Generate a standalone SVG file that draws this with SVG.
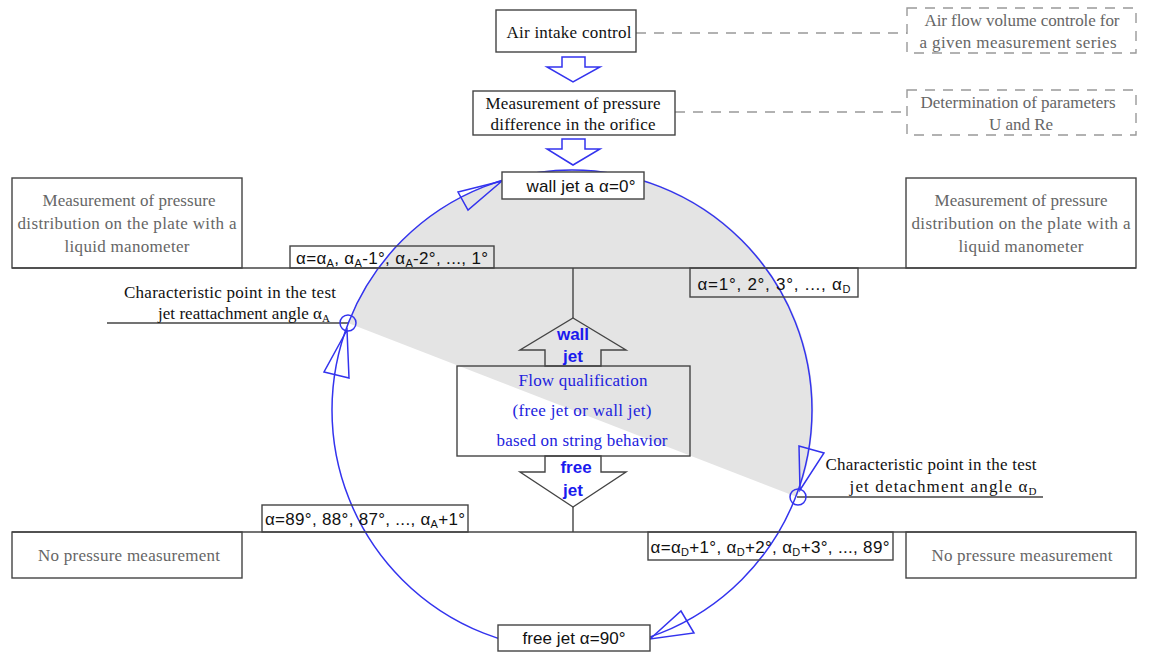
<svg xmlns="http://www.w3.org/2000/svg" width="1149" height="656" viewBox="0 0 1149 656">
<style>
.bx{fill:none;stroke:#444;stroke-width:1.4}
.wb{fill:#fff;stroke:#444;stroke-width:1.4}
.ln{stroke:#444;stroke-width:1.4;fill:none}
.dsh{fill:none;stroke:#999;stroke-width:1.4;stroke-dasharray:10 8}
.blu{fill:#fff;stroke:#3333ee;stroke-width:1.5}
.bluo{fill:none;stroke:#3333ee;stroke-width:1.5}
.se{font-family:"Liberation Serif",serif;font-size:17px;fill:#111;text-anchor:middle}
.sg{font-family:"Liberation Serif",serif;font-size:17px;fill:#666;text-anchor:middle}
.sb{font-family:"Liberation Serif",serif;font-size:17px;fill:#2222dd;text-anchor:middle}
.sa{font-family:"Liberation Sans",Arial,sans-serif;font-size:17px;fill:#111;text-anchor:middle}
.bb{font-family:"Liberation Sans",Arial,sans-serif;font-size:17px;font-weight:bold;fill:#1a1aee;text-anchor:middle}
.sub{font-size:11px}
</style>
<rect width="1149" height="656" fill="#fff"/>
<g id="segment">
<path d="M348,323 A240,240 0 0 1 797,497 Z" fill="#e4e4e4"/>
</g>
<g id="connectors">
<line class="dsh" x1="636" y1="33" x2="907" y2="33"/>
<line class="dsh" x1="675" y1="112" x2="907" y2="112"/>
<line class="ln" x1="12" y1="268" x2="1136" y2="268"/>
<line class="ln" x1="12" y1="532" x2="1136" y2="532"/>
<line class="ln" x1="573" y1="268" x2="573" y2="318"/>
<line class="ln" x1="573" y1="507" x2="573" y2="532"/>
<line class="ln" x1="107" y1="323" x2="348" y2="323"/>
<line class="ln" x1="797" y1="497" x2="1043" y2="497"/>
<circle class="bluo" cx="572" cy="410" r="240"/>
<circle class="bluo" cx="348" cy="323" r="8"/>
<circle class="bluo" cx="798" cy="497" r="8"/>
<polygon class="bluo" points="502,181 458,192 468,210"/>
<polygon class="bluo" points="347,330 324,372 349,378"/>
<polygon class="bluo" points="800,490 799,446 824,453"/>
<polygon class="bluo" points="650,639 681,611 694,633"/>
<polygon class="blu" points="562,57 585,57 585,67 600,67 573,82 547,67 562,67"/>
<polygon class="blu" points="562,139 585,139 585,149 600,149 573,165 547,149 562,149"/>
</g>
<g id="air-intake">
<rect class="wb" x="496" y="10" width="140" height="42"/>
<text class="se" x="569" y="38" textLength="125">Air intake control</text>
</g>
<g id="air-flow-note">
<rect class="dsh" x="907" y="8" width="229" height="45"/>
<text class="sg" x="1022" y="26" textLength="195">Air flow volume controle for</text>
<text class="sg" x="1018" y="48" textLength="197">a given measurement series</text>
</g>
<g id="orifice">
<rect class="wb" x="473" y="91" width="202" height="44"/>
<text class="se" x="573" y="109" textLength="175">Measurement of pressure</text>
<text class="se" x="573" y="130" textLength="165">difference in the orifice</text>
</g>
<g id="params-note">
<rect class="dsh" x="907" y="90" width="229" height="45"/>
<text class="sg" x="1018" y="108" textLength="195">Determination of parameters</text>
<text class="sg" x="1021" y="130">U and Re</text>
</g>
<g id="wall-jet-0">
<rect class="wb" x="502" y="172" width="142" height="27"/>
<text class="sa" x="581" y="192" textLength="109">wall jet a α=0°</text>
</g>
<g id="left-top">
<rect class="bx" x="12" y="178" width="230" height="90"/>
<text class="sg" x="129" y="206" textLength="173">Measurement of pressure</text>
<text class="sg" x="127" y="229" textLength="219">distribution on the plate with a</text>
<text class="sg" x="127" y="252" textLength="125">liquid manometer</text>
</g>
<g id="right-top">
<rect class="bx" x="906" y="178" width="230" height="90"/>
<text class="sg" x="1021" y="206" textLength="173">Measurement of pressure</text>
<text class="sg" x="1021" y="229" textLength="219">distribution on the plate with a</text>
<text class="sg" x="1021" y="252" textLength="125">liquid manometer</text>
</g>
<g id="range-a">
<rect class="bx" x="290" y="246" width="204" height="22"/>
<text class="sa" x="392" y="264" textLength="192">α=α<tspan class="sub" dy="3">A</tspan><tspan dy="-3">, α</tspan><tspan class="sub" dy="3">A</tspan><tspan dy="-3">-1°, α</tspan><tspan class="sub" dy="3">A</tspan><tspan dy="-3">-2°, ..., 1°</tspan></text>
</g>
<g id="range-d">
<rect class="bx" x="690" y="268" width="168" height="29"/>
<text class="sa" x="774" y="290" textLength="153">α=1°, 2°, 3°, ..., α<tspan class="sub" dy="3">D</tspan></text>
</g>
<g id="char-a">
<text class="se" x="230" y="298" textLength="212">Characteristic point in the test</text>
<text class="se" x="244" y="319" textLength="172">jet reattachment angle α<tspan class="sub" dy="3">A</tspan></text>
</g>
<g id="char-d">
<text class="se" x="931" y="470" textLength="211">Characteristic point in the test</text>
<text class="se" x="943" y="492" textLength="187">jet detachment angle α<tspan class="sub" dy="3">D</tspan></text>
</g>
<g id="wall-arrow">
<polygon class="ln" points="573,318 626,350 601,350 601,366 545,366 545,350 520,350"/>
<text class="bb" x="573" y="340">wall</text>
<text class="bb" x="573" y="362">jet</text>
</g>
<g id="flow-qualification">
<rect class="bx" x="457" y="366" width="233" height="90"/>
<text class="sb" x="583" y="386" textLength="129">Flow qualification</text>
<text class="sb" x="582" y="416" textLength="139">(free jet or wall jet)</text>
<text class="sb" x="582" y="446" textLength="171">based on string behavior</text>
</g>
<g id="free-arrow">
<polygon class="ln" points="545,456 601,456 601,472 626,472 573,507 520,472 545,472"/>
<text class="bb" x="576" y="473">free</text>
<text class="bb" x="573" y="496">jet</text>
</g>
<g id="range-89">
<rect class="bx" x="262" y="505" width="206" height="27"/>
<text class="sa" x="365" y="525" textLength="200">α=89°, 88°, 87°, ..., α<tspan class="sub" dy="3">A</tspan><tspan dy="-3">+1°</tspan></text>
</g>
<g id="range-d89">
<rect class="bx" x="648" y="532" width="245" height="28"/>
<text class="sa" x="770" y="553" textLength="239">α=α<tspan class="sub" dy="3">D</tspan><tspan dy="-3">+1°, α</tspan><tspan class="sub" dy="3">D</tspan><tspan dy="-3">+2°, α</tspan><tspan class="sub" dy="3">D</tspan><tspan dy="-3">+3°, ..., 89°</tspan></text>
</g>
<g id="left-bottom">
<rect class="bx" x="12" y="532" width="230" height="46"/>
<text class="sg" x="129" y="561" textLength="182">No pressure measurement</text>
</g>
<g id="right-bottom">
<rect class="bx" x="906" y="532" width="230" height="46"/>
<text class="sg" x="1022" y="561" textLength="181">No pressure measurement</text>
</g>
<g id="free-jet-90">
<rect class="wb" x="498" y="625" width="152" height="26"/>
<text class="sa" x="574" y="644" textLength="103">free jet α=90°</text>
</g>
</svg>
